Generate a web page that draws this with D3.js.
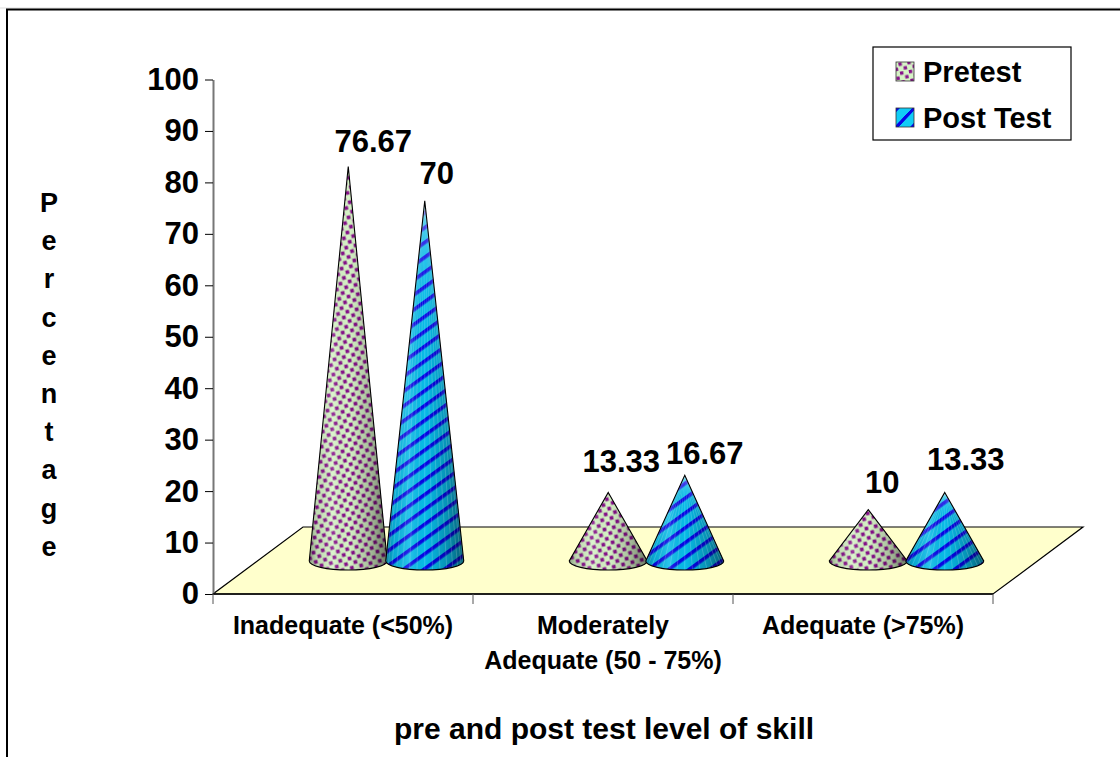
<!DOCTYPE html>
<html lang="en">
<head>
  <meta charset="UTF-8">
  <title>pre and post test level of skill</title>
  <style>
    html, body { margin: 0; background: #fff; }
    svg { display: block; }
    text { font-family: "Liberation Sans", Arial, sans-serif; font-weight: bold; fill: #000; }
  </style>
</head>
<body>
  <svg id="svg" width="1120" height="757"></svg>

  <script src="https://d3js.org/d3.v7.min.js"></script>
  <script>
    const categories = ['Inadequate (<50%)', 'Moderately|Adequate (50 - 75%)', 'Adequate (>75%)']
    const seriesNames = ['Pretest', 'Post Test']
    const pretest = [76.67, 13.33, 10]
    const postTest = [70, 16.67, 13.33]
    const yTicks = [0, 10, 20, 30, 40, 50, 60, 70, 80, 90, 100]
    const yTitle = 'Percentage'
    const xTitle = 'pre and post test level of skill'

    const svg = d3.select('#svg')

    // chart frame, only top and left show in the crop
    svg.append('path').attr('d', 'M0,8H1120').attr('stroke', '#ddd').attr('fill', 'none')
    svg.append('path').attr('d', 'M7,757V9.5H1120').attr('stroke', '#000').attr('stroke-width', 2).attr('fill', 'none')

    const xScale = d3.scaleBand().domain(categories).range([213, 993])
    const yScale = d3.scaleLinear().domain([0, 100]).range([594, 79.5])
    const innerScale = d3.scaleBand().domain(seriesNames).range([52, 205])

    // 3d floor offsets
    const depthX = 90
    const depthY = 67
    const baseShiftX = depthX / 2
    const baseShiftY = 33
    const baseRx = 39
    const baseRy = 9

    const defs = svg.append('defs')

    // textures
    const dots = defs.append('pattern').attr('id', 'dots')
      .attr('patternUnits', 'userSpaceOnUse').attr('width', 9.6).attr('height', 9.6)
      .attr('patternTransform', 'rotate(-14)')
    dots.append('rect').attr('width', 9.6).attr('height', 9.6).attr('fill', '#d6f3c6')
    dots.append('rect').attr('x', 0.6).attr('y', 0.6).attr('width', 3.7).attr('height', 3.7).attr('fill', '#86108a')
    dots.append('rect').attr('x', 5.4).attr('y', 5.4).attr('width', 3.7).attr('height', 3.7).attr('fill', '#86108a')

    const stripes = defs.append('pattern').attr('id', 'stripes')
      .attr('patternUnits', 'userSpaceOnUse').attr('width', 20).attr('height', 12)
      .attr('patternTransform', 'rotate(-36)')
    stripes.append('rect').attr('width', 20).attr('height', 12).attr('fill', '#08bce8')
    stripes.append('rect').attr('y', 0).attr('width', 20).attr('height', 3.6).attr('fill', '#0606e6')

    // smaller textures for the legend
    const legendDots = defs.append('pattern').attr('id', 'legendDots')
      .attr('patternUnits', 'userSpaceOnUse').attr('width', 9).attr('height', 9)
      .attr('patternTransform', 'translate(897,62) rotate(-10)')
    legendDots.append('rect').attr('width', 9).attr('height', 9).attr('fill', '#d6f3c6')
    legendDots.append('rect').attr('x', 1).attr('y', 1).attr('width', 3.4).attr('height', 3.4).attr('fill', '#86108a')
    legendDots.append('rect').attr('x', 5.5).attr('y', 5.5).attr('width', 3.4).attr('height', 3.4).attr('fill', '#86108a')

    const legendStripes = defs.append('linearGradient').attr('id', 'legendStripes')
      .attr('x1', 0).attr('y1', 0).attr('x2', 1).attr('y2', 1)
    const stripeStops = [[0, '#0606e6'], [0.1, '#0606e6'], [0.12, '#10ccf6'], [0.44, '#10ccf6'], [0.46, '#0606e6'], [0.56, '#0606e6'], [0.58, '#10ccf6'], [0.88, '#10ccf6'], [0.9, '#0606e6'], [1, '#0606e6']]
    legendStripes.selectAll('stop').data(stripeStops).enter().append('stop')
      .attr('offset', d => d[0]).attr('stop-color', d => d[1])

    // round shading, laid over the texture
    const shade = defs.append('linearGradient').attr('id', 'shade')
    const shadeStops = [[0, '#000', 0.34], [0.1, '#000', 0.1], [0.3, '#fff', 0.14], [0.5, '#000', 0], [0.78, '#000', 0.22], [1, '#000', 0.5]]
    shade.selectAll('stop').data(shadeStops).enter().append('stop')
      .attr('offset', d => d[0]).attr('stop-color', d => d[1]).attr('stop-opacity', d => d[2])

    // floor
    const x0 = xScale.range()[0]
    const x1 = xScale.range()[1]
    const y0 = yScale(0)
    svg.append('path')
      .attr('d', d3.line()([[x0, y0], [x1, y0], [x1 + depthX, y0 - depthY], [x0 + depthX, y0 - depthY]]) + 'Z')
      .attr('fill', '#ffffcc')
      .attr('stroke', '#000')
      .attr('stroke-width', 1.2)

    // axes
    const yAxis = d3.axisLeft(yScale).tickValues(yTicks).tickSize(8).tickSizeOuter(0).tickPadding(6)
    const yG = svg.append('g').attr('transform', `translate(${x0},0)`).call(yAxis)
    yG.select('.domain').attr('stroke', '#777').attr('stroke-width', 2)
    yG.selectAll('.tick line').attr('stroke', '#000').attr('stroke-width', 1)
    yG.selectAll('.tick text').attr('font-size', 31).style('font-family', '"Liberation Sans", Arial, sans-serif').attr('font-weight', 'bold').attr('fill', '#000')

    svg.append('line').attr('x1', x0).attr('x2', x1).attr('y1', y0).attr('y2', y0).attr('stroke', '#000').attr('stroke-width', 1.4)

    const boundaries = categories.map(c => xScale(c)).concat([x1])
    svg.selectAll('.xtick').data(boundaries).enter().append('line')
      .attr('class', 'xtick')
      .attr('x1', d => d).attr('x2', d => d)
      .attr('y1', y0).attr('y2', y0 + 10)
      .attr('stroke', '#555').attr('stroke-width', 1)

    // category labels
    const catText = svg.selectAll('.cat').data(categories).enter().append('text')
      .attr('class', 'cat')
      .attr('text-anchor', 'middle')
      .attr('font-size', 25)
      .attr('y', 634)
      .attr('x', d => xScale(d) + xScale.bandwidth() / 2)
    catText.selectAll('tspan').data(d => d.split('|').map(t => ({ t, c: d }))).enter().append('tspan')
      .attr('x', d => xScale(d.c) + xScale.bandwidth() / 2)
      .attr('dy', (d, i) => i ? 35 : 0)
      .text(d => d.t)

    // axis titles
    svg.append('text').attr('x', 604).attr('y', 739).attr('text-anchor', 'middle').attr('font-size', 30).text(xTitle)
    svg.selectAll('.ylet').data(yTitle.split('')).enter().append('text')
      .attr('class', 'ylet')
      .attr('x', 49)
      .attr('y', (d, i) => 212 + i * 38.2)
      .attr('text-anchor', 'middle')
      .attr('font-size', 27)
      .text(d => d)

    // cones
    const seriesValues = [pretest, postTest]
    const fills = ['url(#dots)', 'url(#stripes)']
    const labelNudge = [
      [[25, -15], [13, -20], [14, -17]],
      [[12, -17], [20, -11], [21, -22]]
    ]

    seriesNames.forEach((name, s) => {
      const group = svg.append('g').attr('class', 'series')
      const cones = group.selectAll('g').data(seriesValues[s]).enter().append('g')

      const cx = (d, i) => xScale(categories[i]) + innerScale(name) + innerScale.bandwidth() / 2 + baseShiftX
      const baseY = y0 - baseShiftY
      const apexY = d => yScale(d) - baseShiftY

      const conePath = (d, i) => {
        const c = cx(d, i)
        return `M${c},${apexY(d)}L${c + baseRx},${baseY}A${baseRx},${baseRy} 0 0 1 ${c - baseRx},${baseY}Z`
      }

      cones.append('path').attr('d', conePath).attr('fill', fills[s])
      cones.append('path').attr('d', conePath).attr('fill', 'url(#shade)')

      // pale facet lines running up to the tip
      if (s === 1) {
        cones.each(function (d, i) {
          const c = cx(d, i)
          d3.select(this).selectAll('line').data(d3.range(-1.4, 1.41, 0.2)).enter().append('line')
            .attr('x1', c).attr('y1', apexY(d))
            .attr('x2', a => c + baseRx * Math.sin(a))
            .attr('y2', a => baseY + baseRy * Math.cos(a))
            .attr('stroke', '#fff').attr('stroke-opacity', 0.22).attr('stroke-width', 0.8)
        })
      }

      cones.append('path').attr('d', conePath).attr('fill', 'none').attr('stroke', '#000').attr('stroke-width', 1.1)

      cones.append('text')
        .attr('x', (d, i) => cx(d, i) + labelNudge[s][i][0])
        .attr('y', (d, i) => apexY(d) + labelNudge[s][i][1])
        .attr('text-anchor', 'middle')
        .attr('font-size', 31)
        .text(d => d)
    })

    // legend
    const legend = svg.append('g')
    legend.append('rect').attr('x', 873).attr('y', 47).attr('width', 198).attr('height', 93)
      .attr('fill', '#fff').attr('stroke', '#000').attr('stroke-width', 1.2)
    const legendFills = ['url(#legendDots)', 'url(#legendStripes)']
    const legendRows = legend.selectAll('g').data(seriesNames).enter().append('g')
      .attr('transform', (d, i) => `translate(0,${i * 46})`)
    legendRows.append('rect').attr('x', 896).attr('y', 62).attr('width', 18).attr('height', 19)
      .attr('fill', (d, i) => legendFills[i]).attr('stroke', '#333').attr('stroke-width', 0.8)
    legendRows.append('text').attr('x', 923).attr('y', 82).attr('font-size', 29).text(d => d)
  </script>
</body>
</html>
